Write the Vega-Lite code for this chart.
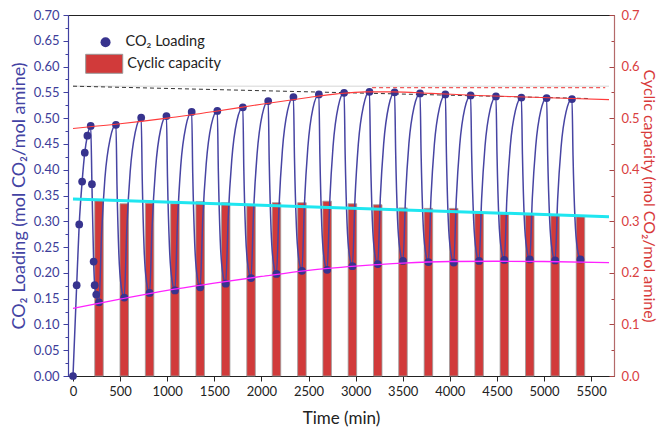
{
  "$schema": "https://vega.github.io/schema/vega-lite/v6.json",
  "width": 546,
  "height": 361,
  "autosize": {"type": "none"},
  "padding": {"left": 68, "top": 15, "right": 46, "bottom": 54},
  "background": "white",
  "config": {
    "view": {"stroke": "#222", "strokeWidth": 1},
    "font": "Lato",
    "axis": {"grid": false, "labelFont": "Lato", "titleFont": "Lato", "labelFontSize": 13, "titleFontSize": 17, "titleFontWeight": "normal", "labelOverlap": false, "labelFlush": false},
    "legend": {"labelFont": "Lato", "labelFontSize": 14.5, "labelColor": "#222", "padding": 0, "title": null}
  },
  "datasets": {
    "loading": [
      {"t":0,"v":0,"m":1},{"t":39,"v":0.176,"m":1},{"t":66,"v":0.294,"m":1},{"t":97,"v":0.377,"m":1},{"t":125,"v":0.433,"m":1},{"t":153,"v":0.466,"m":1},{"t":188,"v":0.485,"m":1},{"t":201,"v":0.372,"m":1},{"t":219,"v":0.222,"m":1},{"t":230,"v":0.176,"m":1},{"t":247,"v":0.158,"m":1},{"t":276,"v":0.143,"m":1},
      {"t":303,"v":0.274,"m":0},{"t":339,"v":0.384,"m":0},{"t":393,"v":0.459,"m":0},{"t":456,"v":0.487,"m":1},{"t":467,"v":0.370,"m":0},{"t":487,"v":0.236,"m":0},{"t":513,"v":0.172,"m":0},{"t":544,"v":0.152,"m":1},
      {"t":571,"v":0.285,"m":0},{"t":607,"v":0.396,"m":0},{"t":661,"v":0.473,"m":0},{"t":724,"v":0.501,"m":1},{"t":735,"v":0.382,"m":0},{"t":755,"v":0.246,"m":0},{"t":782,"v":0.181,"m":0},{"t":813,"v":0.161,"m":1},
      {"t":840,"v":0.291,"m":0},{"t":876,"v":0.401,"m":0},{"t":929,"v":0.477,"m":0},{"t":992,"v":0.504,"m":1},{"t":1003,"v":0.386,"m":0},{"t":1024,"v":0.250,"m":0},{"t":1051,"v":0.186,"m":0},{"t":1082,"v":0.166,"m":1},
      {"t":1109,"v":0.297,"m":0},{"t":1144,"v":0.408,"m":0},{"t":1198,"v":0.484,"m":0},{"t":1260,"v":0.512,"m":1},{"t":1271,"v":0.393,"m":0},{"t":1292,"v":0.257,"m":0},{"t":1319,"v":0.192,"m":0},{"t":1350,"v":0.172,"m":1},
      {"t":1377,"v":0.302,"m":0},{"t":1414,"v":0.411,"m":0},{"t":1468,"v":0.487,"m":0},{"t":1532,"v":0.514,"m":1},{"t":1543,"v":0.397,"m":0},{"t":1563,"v":0.263,"m":0},{"t":1590,"v":0.199,"m":0},{"t":1621,"v":0.179,"m":1},
      {"t":1648,"v":0.309,"m":0},{"t":1685,"v":0.418,"m":0},{"t":1739,"v":0.494,"m":0},{"t":1803,"v":0.521,"m":1},{"t":1813,"v":0.405,"m":0},{"t":1833,"v":0.273,"m":0},{"t":1860,"v":0.210,"m":0},{"t":1890,"v":0.190,"m":1},
      {"t":1917,"v":0.320,"m":0},{"t":1954,"v":0.430,"m":0},{"t":2008,"v":0.506,"m":0},{"t":2072,"v":0.533,"m":1},{"t":2083,"v":0.416,"m":0},{"t":2103,"v":0.282,"m":0},{"t":2129,"v":0.218,"m":0},{"t":2160,"v":0.198,"m":1},
      {"t":2187,"v":0.328,"m":0},{"t":2223,"v":0.438,"m":0},{"t":2277,"v":0.514,"m":0},{"t":2340,"v":0.541,"m":1},{"t":2351,"v":0.423,"m":0},{"t":2372,"v":0.288,"m":0},{"t":2399,"v":0.224,"m":0},{"t":2430,"v":0.204,"m":1},
      {"t":2457,"v":0.334,"m":0},{"t":2493,"v":0.443,"m":0},{"t":2547,"v":0.519,"m":0},{"t":2610,"v":0.546,"m":1},{"t":2621,"v":0.427,"m":0},{"t":2641,"v":0.291,"m":0},{"t":2667,"v":0.226,"m":0},{"t":2698,"v":0.206,"m":1},
      {"t":2725,"v":0.336,"m":0},{"t":2761,"v":0.446,"m":0},{"t":2815,"v":0.522,"m":0},{"t":2878,"v":0.549,"m":1},{"t":2889,"v":0.431,"m":0},{"t":2909,"v":0.297,"m":0},{"t":2935,"v":0.233,"m":0},{"t":2966,"v":0.213,"m":1},
      {"t":2993,"v":0.341,"m":0},{"t":3029,"v":0.450,"m":0},{"t":3084,"v":0.524,"m":0},{"t":3147,"v":0.551,"m":1},{"t":3158,"v":0.434,"m":0},{"t":3178,"v":0.300,"m":0},{"t":3204,"v":0.237,"m":0},{"t":3235,"v":0.217,"m":1},
      {"t":3262,"v":0.344,"m":0},{"t":3298,"v":0.450,"m":0},{"t":3351,"v":0.523,"m":0},{"t":3414,"v":0.550,"m":1},{"t":3425,"v":0.436,"m":0},{"t":3445,"v":0.305,"m":0},{"t":3472,"v":0.243,"m":0},{"t":3503,"v":0.223,"m":1},
      {"t":3530,"v":0.347,"m":0},{"t":3566,"v":0.451,"m":0},{"t":3621,"v":0.522,"m":0},{"t":3684,"v":0.548,"m":1},{"t":3695,"v":0.434,"m":0},{"t":3715,"v":0.303,"m":0},{"t":3742,"v":0.241,"m":0},{"t":3773,"v":0.221,"m":1},
      {"t":3800,"v":0.345,"m":0},{"t":3836,"v":0.449,"m":0},{"t":3890,"v":0.520,"m":0},{"t":3953,"v":0.546,"m":1},{"t":3964,"v":0.432,"m":0},{"t":3984,"v":0.301,"m":0},{"t":4011,"v":0.240,"m":0},{"t":4042,"v":0.220,"m":1},
      {"t":4069,"v":0.343,"m":0},{"t":4105,"v":0.447,"m":0},{"t":4158,"v":0.518,"m":0},{"t":4221,"v":0.544,"m":1},{"t":4232,"v":0.432,"m":0},{"t":4253,"v":0.303,"m":0},{"t":4280,"v":0.242,"m":0},{"t":4311,"v":0.223,"m":1},
      {"t":4338,"v":0.344,"m":0},{"t":4374,"v":0.446,"m":0},{"t":4427,"v":0.516,"m":0},{"t":4490,"v":0.542,"m":1},{"t":4501,"v":0.431,"m":0},{"t":4521,"v":0.304,"m":0},{"t":4548,"v":0.244,"m":0},{"t":4579,"v":0.225,"m":1},
      {"t":4606,"v":0.345,"m":0},{"t":4642,"v":0.446,"m":0},{"t":4697,"v":0.515,"m":0},{"t":4760,"v":0.540,"m":1},{"t":4771,"v":0.430,"m":0},{"t":4791,"v":0.304,"m":0},{"t":4818,"v":0.245,"m":0},{"t":4849,"v":0.226,"m":1},
      {"t":4876,"v":0.345,"m":0},{"t":4912,"v":0.445,"m":0},{"t":4965,"v":0.514,"m":0},{"t":5028,"v":0.539,"m":1},{"t":5039,"v":0.429,"m":0},{"t":5060,"v":0.303,"m":0},{"t":5087,"v":0.243,"m":0},{"t":5118,"v":0.224,"m":1},
      {"t":5145,"v":0.343,"m":0},{"t":5181,"v":0.443,"m":0},{"t":5234,"v":0.512,"m":0},{"t":5297,"v":0.537,"m":1},{"t":5308,"v":0.428,"m":0},{"t":5329,"v":0.304,"m":0},{"t":5356,"v":0.245,"m":0},{"t":5387,"v":0.226,"m":1}
    ],
    "bars": [
      {"t":276,"c":0.340},{"t":544,"c":0.334},{"t":813,"c":0.335},{"t":1082,"c":0.334},{"t":1350,"c":0.338},{"t":1621,"c":0.336},{"t":1890,"c":0.330},{"t":2160,"c":0.336},{"t":2430,"c":0.336},{"t":2698,"c":0.339},
      {"t":2966,"c":0.334},{"t":3235,"c":0.332},{"t":3503,"c":0.326},{"t":3773,"c":0.325},{"t":4042,"c":0.325},{"t":4311,"c":0.315},{"t":4579,"c":0.314},{"t":4849,"c":0.312},{"t":5118,"c":0.311},{"t":5387,"c":0.309}
    ],
    "fits": [
      {"s":"max","t":0,"v":0.480},{"s":"max","t":500,"v":0.489},{"s":"max","t":1000,"v":0.500},{"s":"max","t":1500,"v":0.513},{"s":"max","t":2000,"v":0.527},{"s":"max","t":2500,"v":0.540},{"s":"max","t":2800,"v":0.547},{"s":"max","t":3100,"v":0.551},{"s":"max","t":3400,"v":0.551},{"s":"max","t":3800,"v":0.548},{"s":"max","t":4300,"v":0.544},{"s":"max","t":4800,"v":0.541},{"s":"max","t":5300,"v":0.538},{"s":"max","t":5690,"v":0.536},
      {"s":"min","t":0,"v":0.131},{"s":"min","t":500,"v":0.149},{"s":"min","t":1000,"v":0.166},{"s":"min","t":1500,"v":0.180},{"s":"min","t":2000,"v":0.193},{"s":"min","t":2500,"v":0.205},{"s":"min","t":3000,"v":0.213},{"s":"min","t":3500,"v":0.219},{"s":"min","t":4000,"v":0.222},{"s":"min","t":4500,"v":0.2225},{"s":"min","t":5000,"v":0.222},{"s":"min","t":5690,"v":0.220},
      {"s":"cap","t":0,"v":0.343},{"s":"cap","t":5690,"v":0.309},
      {"s":"lin","t":0,"v":0.562},{"s":"lin","t":5480,"v":0.538},
      {"s":"ref","t":3175,"v":0.559},{"s":"ref","t":5650,"v":0.559},
      {"s":"grey","t":0,"v":0.562},{"s":"grey","t":5690,"v":0.562}
    ]
  },
  "layer": [
    {
      "data": {"name": "bars"},
      "mark": {"type": "bar", "width": 8.5, "stroke": "#9a9a9a", "strokeWidth": 0.8},
      "encoding": {
        "x": {"field": "t", "type": "quantitative", "scale": {"domain": [0, 5690], "nice": false},
          "axis": {"title": "Time (min)", "values": [0,250,500,750,1000,1250,1500,1750,2000,2250,2500,2750,3000,3250,3500,3750,4000,4250,4500,4750,5000,5250,5500],
            "format": "d", "labelExpr": "datum.value % 500 === 0 ? datum.label : ''", "labelOverlap": false,
            "tickSize": {"condition": {"test": "datum.value % 500 === 0", "value": 5}, "value": 3},
            "domainColor": "#222", "tickColor": "#222", "labelColor": "#222", "titleColor": "#222", "labelPadding": 4, "titlePadding": 12}},
        "y": {"field": "c", "type": "quantitative", "scale": {"domain": [0, 0.7], "nice": false},
          "axis": {"orient": "right", "title": "Cyclic capacity (mol CO₂/mol amine)", "values": [0,0.05,0.1,0.15,0.2,0.25,0.3,0.35,0.4,0.45,0.5,0.55,0.6,0.65,0.7],
            "format": ".1f", "labelExpr": "round(datum.value*1000) % 100 === 0 ? datum.label : ''", "labelOverlap": false,
            "tickSize": {"condition": {"test": "round(datum.value*1000) % 100 === 0", "value": -5}, "value": -3},
            "domainColor": "#b46a6a", "domainWidth": 1.2, "tickColor": "#a84444", "labelColor": "#d9403f", "titleColor": "#d83a3a", "titleFontSize": 16, "labelPadding": 12, "titlePadding": 1}},
        "fill": {"datum": "Cyclic capacity", "type": "nominal",
          "scale": {"domain": ["Cyclic capacity"], "range": ["#d13a3a"]},
          "legend": {"orient": "none", "legendX": 26.2, "legendY": 38.8, "symbolType": "M-1.95,-1H1.95V1H-1.95Z", "symbolSize": 361, "labelOffset": 13,
            "symbolStrokeColor": "#999999", "symbolStrokeWidth": 1, "symbolOpacity": 1}}
      }
    },
    {
      "encoding": {
        "x": {"field": "t", "type": "quantitative", "title": "Time (min)"},
        "y": {"field": "v", "type": "quantitative", "scale": {"domain": [0, 0.7], "nice": false},
          "axis": {"orient": "left", "title": "CO₂ Loading (mol CO₂/mol amine)",
            "values": [0,0.025,0.05,0.075,0.1,0.125,0.15,0.175,0.2,0.225,0.25,0.275,0.3,0.325,0.35,0.375,0.4,0.425,0.45,0.475,0.5,0.525,0.55,0.575,0.6,0.625,0.65,0.675,0.7],
            "format": ".2f", "labelExpr": "round(datum.value*1000) % 50 === 0 ? datum.label : ''", "labelOverlap": false,
            "tickSize": {"condition": {"test": "round(datum.value*1000) % 50 === 0", "value": 5}, "value": 3},
            "domainColor": "#4040a0", "domainWidth": 1.2, "tickColor": "#4040a0", "labelColor": "#3d3d99", "titleColor": "#4343a3", "titleFontSize": 18, "labelPadding": 4, "titlePadding": 5}}
      },
      "layer": [
        {"data": {"name": "fits"}, "transform": [{"filter": "datum.s === 'grey'"}],
          "mark": {"type": "line", "color": "#cccccc", "strokeWidth": 0.8}},
        {"data": {"name": "fits"}, "transform": [{"filter": "datum.s === 'lin'"}],
          "mark": {"type": "line", "color": "#333333", "strokeWidth": 1, "strokeDash": [4, 3]}},
        {"data": {"name": "fits"}, "transform": [{"filter": "datum.s === 'ref'"}],
          "mark": {"type": "line", "color": "#ee3333", "strokeWidth": 1, "strokeDash": [4, 3]}},
        {"data": {"name": "loading"},
          "mark": {"type": "line", "color": "#4744a3", "strokeWidth": 1.5, "interpolate": "monotone"}},
        {"data": {"name": "fits"}, "transform": [{"filter": "datum.s === 'cap'"}],
          "mark": {"type": "line", "color": "#1fe6f0", "strokeWidth": 3}},
        {"data": {"name": "loading"}, "transform": [{"filter": "datum.m === 1"}],
          "mark": {"type": "point", "filled": true, "size": 60, "opacity": 1},
          "encoding": {
            "color": {"datum": "CO₂ Loading", "type": "nominal",
              "scale": {"domain": ["CO₂ Loading"], "range": ["#37338e"]},
              "legend": {"orient": "none", "legendX": 30.3, "legendY": 20, "symbolType": "circle", "symbolSize": 100, "labelOffset": 12.7, "symbolOpacity": 1, "symbolStrokeWidth": 0}}}},
        {"data": {"name": "fits"}, "transform": [{"filter": "datum.s === 'min'"}],
          "mark": {"type": "line", "color": "#ff22ff", "strokeWidth": 1.3, "interpolate": "monotone"}},
        {"data": {"name": "fits"}, "transform": [{"filter": "datum.s === 'max'"}],
          "mark": {"type": "line", "color": "#ff3b3b", "strokeWidth": 1.1, "interpolate": "monotone"}}
      ]
    }
  ],
  "resolve": {"scale": {"y": "independent"}}
}
